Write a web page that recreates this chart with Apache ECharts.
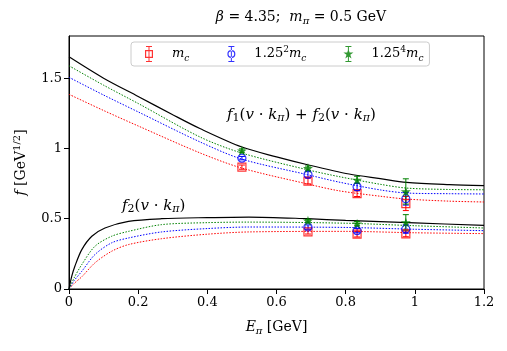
<!DOCTYPE html>
<html>
<head>
<meta charset="utf-8">
<script src="https://cdn.jsdelivr.net/npm/echarts@6/dist/echarts.min.js"></script>
<style>
  html, body { margin: 0; padding: 0; background: #fff; }
  #main { width: 507px; height: 351px; }
</style>
</head>
<body>
<div id="main"></div>
<script>
// lattice data points (E_pi, f, error)
var xUpper = [0.5, 0.691, 0.833, 0.974];
var xLower = [0.691, 0.833, 0.974];

var redUpper = [0.867, 0.768, 0.678, 0.608];
var redUpperErr = [0.015, 0.02, 0.02, 0.05];
var blueUpper = [0.931, 0.815, 0.727, 0.642];
var blueUpperErr = [0.012, 0.02, 0.025, 0.045];
var greenUpper = [0.985, 0.860, 0.777, 0.694];
var greenUpperErr = [0.012, 0.015, 0.025, 0.09];

var redLower = [0.406, 0.390, 0.392];
var redLowerErr = [0.015, 0.02, 0.02];
var blueLower = [0.441, 0.415, 0.427];
var blueLowerErr = [0.015, 0.015, 0.03];
var greenLower = [0.486, 0.465, 0.474];
var greenLowerErr = [0.01, 0.015, 0.055];

// fit curves: [E_pi, f]
var blackUpperCurve = [[0, 1.652], [0.1, 1.50], [0.2, 1.37], [0.3, 1.24], [0.38, 1.14], [0.5, 1.01], [0.6, 0.94], [0.69, 0.884], [0.81, 0.818], [0.9, 0.785], [0.976, 0.758], [1.1, 0.742], [1.2, 0.735]];
var greenUpperCurve = [[0, 1.588], [0.1, 1.45], [0.2, 1.32], [0.38, 1.08], [0.5, 0.967], [0.69, 0.848], [0.78, 0.80], [0.9, 0.745], [0.976, 0.718], [1.1, 0.708], [1.2, 0.706]];
var blueUpperCurve = [[0, 1.506], [0.1, 1.38], [0.2, 1.26], [0.38, 1.045], [0.5, 0.924], [0.69, 0.813], [0.78, 0.761], [0.9, 0.705], [0.976, 0.683], [1.1, 0.678], [1.2, 0.676]];
var redUpperCurve = [[0, 1.385], [0.1, 1.27], [0.2, 1.16], [0.38, 0.967], [0.5, 0.86], [0.69, 0.747], [0.78, 0.699], [0.9, 0.66], [0.976, 0.640], [1.1, 0.625], [1.2, 0.619]];

var blackLowerCurve = [[0, 0], [0.008, 0.091], [0.017, 0.162], [0.037, 0.28], [0.066, 0.375], [0.104, 0.434], [0.172, 0.481], [0.268, 0.50], [0.4, 0.508], [0.52, 0.512], [0.69, 0.50], [0.8, 0.488], [1.0, 0.47], [1.2, 0.453]];
var greenLowerCurve = [[0, 0], [0.015, 0.08], [0.037, 0.174], [0.075, 0.304], [0.123, 0.375], [0.172, 0.41], [0.268, 0.458], [0.4, 0.472], [0.52, 0.476], [0.8, 0.468], [1.0, 0.45], [1.2, 0.434]];
var blueLowerCurve = [[0, 0], [0.015, 0.06], [0.037, 0.126], [0.075, 0.245], [0.123, 0.328], [0.172, 0.363], [0.268, 0.406], [0.4, 0.43], [0.52, 0.441], [0.8, 0.438], [1.0, 0.425], [1.2, 0.415]];
var redLowerCurve = [[0, 0], [0.015, 0.04], [0.037, 0.087], [0.075, 0.186], [0.123, 0.268], [0.172, 0.316], [0.268, 0.358], [0.4, 0.39], [0.52, 0.406], [0.8, 0.41], [1.0, 0.40], [1.2, 0.394]];

var xTicks = [0, 0.2, 0.4, 0.6, 0.8, 1, 1.2];
var yTicks = [0, 0.5, 1, 1.5];

var F = "'DejaVu Serif', 'Liberation Serif', serif";
var RED = '#ff0000', BLUE = '#0000ff', GREEN = '#008000';

function richSet(size) {
  return {
    i: { fontStyle: 'italic', fontFamily: F, fontSize: size, lineHeight: 18 },
    sub: { fontFamily: F, fontSize: size - 4, lineHeight: 9, verticalAlign: 'bottom' },
    subi: { fontFamily: F, fontStyle: 'italic', fontSize: size - 4, lineHeight: 9, verticalAlign: 'bottom' },
    sup: { fontFamily: F, fontSize: size - 4, lineHeight: 9, verticalAlign: 'top' }
  };
}

var starPath = 'path://M50,0 L61,35 L98,35 L68,57 L79,91 L50,70 L21,91 L32,57 L2,35 L39,35 Z';

// legend icons: marker with an error bar, in a 36x16 box
var box = 'M0,0 h0.01 v0.01 h-0.01 z M35.99,15.99 h0.01 v0.01 h-0.01 z ';
var bar = 'M15,0 h6 v1 h-6 z M17.5,1 h1 v14 h-1 z M15,15 h6 v1 h-6 z ';
var iconRed = 'path://' + box + bar + 'M14,4 h8 v8 h-8 z M15.2,5.2 v5.6 h5.6 v-5.6 z';
var iconBlue = 'path://' + box + bar + 'M14,8 A4,4 0 1,0 22,8 A4,4 0 1,0 14,8 Z M15.2,8 A2.8,2.8 0 1,1 20.8,8 A2.8,2.8 0 1,1 15.2,8 Z';
var iconGreen = 'path://' + box + bar + 'M18,3 L19.2,6.6 L23,6.6 L19.9,8.8 L21.1,12.4 L18,10.2 L14.9,12.4 L16.1,8.8 L13,6.6 L16.8,6.6 Z';

function pts(xs, ys, es) {
  return xs.map(function (x, k) { return [x, ys[k], es[k]]; });
}

function errRender(color) {
  return function (params, api) {
    var x = api.value(0), y = api.value(1), e = api.value(2);
    var t = api.coord([x, y + e]), b = api.coord([x, y - e]);
    var w = 3, st = { stroke: color, lineWidth: 1 };
    return {
      type: 'group',
      children: [
        { type: 'line', shape: { x1: t[0], y1: t[1], x2: b[0], y2: b[1] }, style: st },
        { type: 'line', shape: { x1: t[0] - w, y1: t[1], x2: t[0] + w, y2: t[1] }, style: st },
        { type: 'line', shape: { x1: b[0] - w, y1: b[1], x2: b[0] + w, y2: b[1] }, style: st }
      ]
    };
  };
}

function curve(data, color, solid) {
  return {
    type: 'line', data: data, showSymbol: false, smooth: 0.3,
    silent: true, z: 1,
    lineStyle: { color: color, width: solid ? 1.2 : 1, type: solid ? 'solid' : [1.5, 1.5] }
  };
}

function errSeries(data, color) {
  return { type: 'custom', data: data, renderItem: errRender(color), silent: true, z: 3 };
}

var groups = [
  { name: 'mc', color: RED, symbol: 'rect', filled: false, up: pts(xUpper, redUpper, redUpperErr), low: pts(xLower, redLower, redLowerErr) },
  { name: 'mc2', color: BLUE, symbol: 'circle', filled: false, up: pts(xUpper, blueUpper, blueUpperErr), low: pts(xLower, blueLower, blueLowerErr) },
  { name: 'mc4', color: GREEN, symbol: starPath, filled: true, up: pts(xUpper, greenUpper, greenUpperErr), low: pts(xLower, greenLower, greenLowerErr) }
];

var series = [
  curve(redUpperCurve, RED), curve(blueUpperCurve, BLUE), curve(greenUpperCurve, GREEN), curve(blackUpperCurve, '#000', true),
  curve(redLowerCurve, RED), curve(blueLowerCurve, BLUE), curve(greenLowerCurve, GREEN), curve(blackLowerCurve, '#000', true)
];

groups.forEach(function (g) {
  var all = g.up.concat(g.low);
  series.push(errSeries(all, g.color));
  series.push({
    type: 'scatter', name: g.name, data: all, symbol: g.symbol,
    symbolSize: g.filled ? 10 : 8, z: 4,
    itemStyle: g.filled ? { color: g.color } : { color: 'rgba(255,255,255,0)', borderColor: g.color, borderWidth: 1.2 }
  });
});

var legendNames = {
  mc: '{i|m}{subi|c}',
  mc2: '1.25{sup|2}{i|m}{subi|c}',
  mc4: '1.25{sup|4}{i|m}{subi|c}'
};

var myChart = echarts.init(document.getElementById('main'));

option = {
  backgroundColor: '#fff',
  animation: false,
  title: {
    text: '{i|β} = 4.35;  {i|m}{subi|π} = 0.5 GeV',
    left: 296, top: 3, textAlign: 'center',
    textStyle: { fontFamily: F, fontSize: 14, fontWeight: 'normal', color: '#000', lineHeight: 18, rich: richSet(14) }
  },
  legend: {
    left: 131, top: 42,
    padding: [3, 6, 3, 0],
    itemWidth: 36, itemHeight: 16, itemGap: 24,
    borderColor: '#cccccc', borderWidth: 1, borderRadius: 3, backgroundColor: '#fff',
    data: [
      { name: 'mc', icon: iconRed, itemStyle: { color: RED, borderWidth: 0 } },
      { name: 'mc2', icon: iconBlue, itemStyle: { color: BLUE, borderWidth: 0 } },
      { name: 'mc4', icon: iconGreen, itemStyle: { color: GREEN, borderWidth: 0 } }
    ],
    formatter: function (name) { return legendNames[name]; },
    textStyle: { fontFamily: F, fontSize: 13, color: '#000', lineHeight: 18, rich: richSet(13) }
  },
  grid: { left: 69, right: 23, top: 36, bottom: 62, show: true, borderColor: '#000', borderWidth: 1 },
  xAxis: {
    type: 'value', min: 0, max: 1.2, interval: 0.2,
    name: '{i|E}{subi|π} [GeV]', nameLocation: 'middle', nameGap: 29,
    nameTextStyle: { fontFamily: F, fontSize: 14, color: '#000', lineHeight: 18, rich: richSet(14) },
    axisLine: { lineStyle: { color: '#000', width: 1 } },
    axisTick: { show: true, length: 5, lineStyle: { color: '#000' } },
    splitLine: { show: false },
    axisLabel: { fontFamily: F, fontSize: 13, color: '#000', margin: 7,
      formatter: function (v) { return xTicks.indexOf(Math.round(v * 10) / 10) >= 0 ? String(Math.round(v * 10) / 10) : ''; } }
  },
  yAxis: {
    type: 'value', min: 0, max: 1.8, interval: 0.5,
    name: '{i|f} [GeV{sup|1/2}]', nameLocation: 'middle', nameGap: 36, nameRotate: 90,
    nameTextStyle: { fontFamily: F, fontSize: 14, color: '#000', lineHeight: 18, rich: richSet(14) },
    axisLine: { lineStyle: { color: '#000', width: 1 } },
    axisTick: { show: true, length: 5, lineStyle: { color: '#000' } },
    splitLine: { show: false },
    axisLabel: { fontFamily: F, fontSize: 13, color: '#000', margin: 7, showMaxLabel: false,
      formatter: function (v) { return yTicks.indexOf(v) >= 0 ? String(v) : ''; } }
  },
  graphic: [
    { type: 'text', x: 227, y: 106, silent: true, style: {
      text: '{i|f}{sub|1}({i|v} · {i|k}{subi|π}) + {i|f}{sub|2}({i|v} · {i|k}{subi|π})',
      fontFamily: F, fontSize: 15, lineHeight: 18, fill: '#000', rich: richSet(15) } },
    { type: 'text', x: 122, y: 197, silent: true, style: {
      text: '{i|f}{sub|2}({i|v} · {i|k}{subi|π})',
      fontFamily: F, fontSize: 15, lineHeight: 18, fill: '#000', rich: richSet(15) } }
  ],
  series: series
};

option && myChart.setOption(option);
</script>
</body>
</html>
